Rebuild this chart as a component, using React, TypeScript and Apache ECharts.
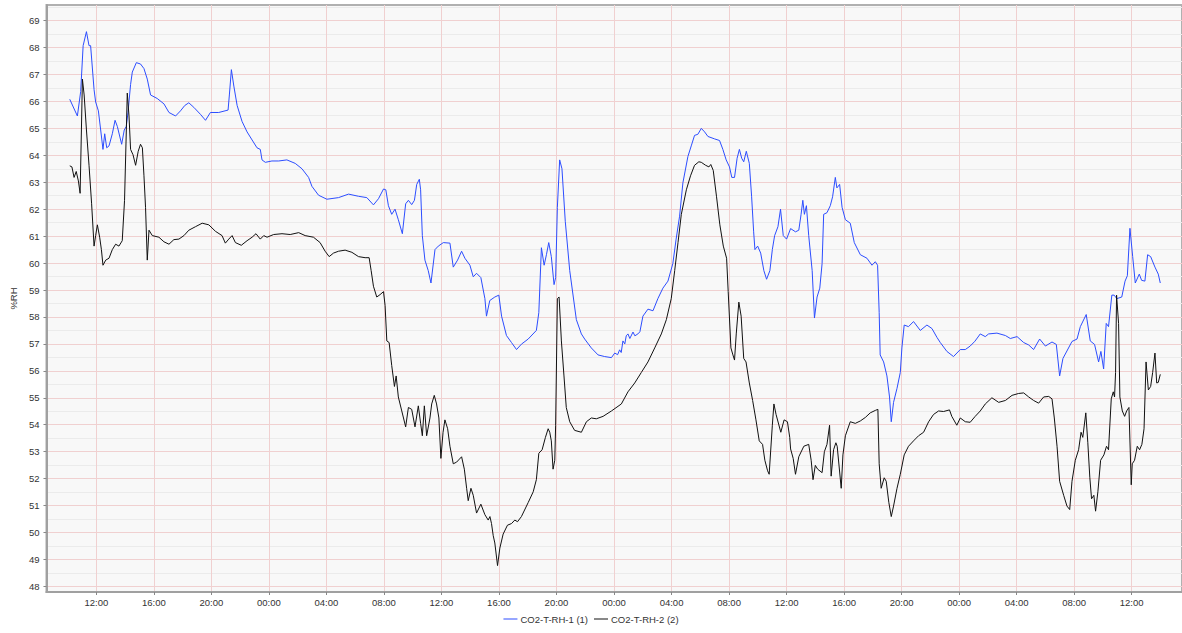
import React, { useEffect, useRef } from "react";
import * as echarts from "echarts";

// time in hours since 00:00 of the first day
const rh1Hours = [10.15,10.68,10.91,11.08,11.31,11.49,11.6,11.84,11.95,12.14,12.3,12.46,12.58,12.72,12.88,13.11,13.3,13.46,13.76,13.94,14.08,14.2,14.38,14.5,14.78,15.07,15.31,15.54,15.77,16.23,16.7,17.05,17.51,17.85,18.15,18.43,18.78,19.24,19.59,19.93,20.51,21.16,21.25,21.39,21.56,21.79,22.13,22.48,22.83,23.17,23.4,23.52,23.75,24.21,24.68,25.25,25.83,26.3,26.76,26.99,27.45,28.03,28.84,29.54,30.23,30.81,31.27,31.62,31.97,32.13,32.31,32.54,32.77,33.0,33.28,33.51,33.7,33.93,34.12,34.28,34.46,34.55,34.67,34.85,35.08,35.27,35.55,35.78,36.13,36.59,36.82,37.12,37.4,37.63,37.98,38.21,38.44,38.74,39.02,39.13,39.36,39.71,39.99,40.18,40.52,40.87,41.22,41.56,42.03,42.6,42.77,42.95,43.14,43.3,43.46,43.64,43.83,43.94,44.06,44.22,44.38,44.61,44.92,45.38,45.73,45.96,46.42,46.89,47.35,47.82,48.05,48.25,48.39,48.5,48.62,48.75,48.85,48.97,49.1,49.32,49.45,49.66,49.8,50.01,50.36,50.71,51.05,51.4,51.75,52.09,52.32,52.56,52.79,53.14,53.37,53.6,53.83,54.07,54.3,54.53,54.99,55.34,55.57,55.8,56.03,56.19,56.38,56.56,56.72,56.88,57.02,57.2,57.41,57.57,57.71,57.8,57.99,58.2,58.42,58.61,58.84,59.01,59.17,59.4,59.58,59.77,60.0,60.28,60.62,60.85,61.01,61.13,61.24,61.38,61.54,61.78,61.94,62.12,62.31,62.47,62.58,62.81,63.04,63.2,63.39,63.5,63.69,63.86,64.09,64.43,64.71,65.13,65.59,65.94,66.17,66.33,66.44,66.51,66.75,66.98,67.16,67.28,67.44,67.68,67.91,68.02,68.18,68.48,68.83,69.3,69.76,70.11,70.46,70.69,71.15,71.61,72.08,72.43,72.77,73.1,73.47,73.82,74.05,74.63,75.22,75.56,76.03,76.49,76.84,77.18,77.6,78.0,78.46,78.76,78.99,79.22,79.85,80.2,80.43,80.84,81.12,81.42,81.7,81.86,82.05,82.23,82.39,82.62,82.78,82.97,83.31,83.54,83.7,83.88,84.07,84.25,84.53,84.69,84.92,85.11,85.32,85.62,85.85,85.99];
const rh1Values = [66.08,65.46,66.37,68.07,68.59,68.07,68.07,66.44,65.98,65.65,64.94,64.22,64.8,64.28,64.35,64.8,65.3,65.07,64.41,64.94,65.07,65.59,66.63,67.09,67.44,67.39,67.22,66.83,66.24,66.11,65.91,65.59,65.46,65.65,65.85,65.95,65.78,65.52,65.3,65.59,65.59,65.68,66.24,67.18,66.57,65.85,65.26,64.87,64.57,64.28,64.22,63.83,63.74,63.79,63.79,63.83,63.7,63.5,63.18,62.85,62.52,62.37,62.43,62.56,62.48,62.43,62.16,62.39,62.75,62.72,62.13,61.81,62.0,61.61,61.09,62.2,62.33,62.17,62.33,62.92,63.11,62.72,61.02,60.11,59.72,59.26,60.5,60.63,60.76,60.74,59.85,60.11,60.44,60.18,59.92,59.49,59.62,59.46,58.68,58.03,58.61,58.74,58.81,58.03,57.31,57.05,56.79,56.99,57.18,57.5,58.16,60.57,59.92,60.31,60.76,60.24,59.2,59.46,62.07,63.83,63.5,61.55,59.72,57.9,57.37,57.18,56.85,56.59,56.53,56.49,56.66,56.6,56.78,56.68,57.11,57.0,57.3,57.37,57.2,57.44,57.3,57.37,57.45,58.03,58.29,58.23,58.68,59.07,59.33,59.98,60.89,61.74,62.98,63.96,64.35,64.74,64.78,65.0,64.87,64.7,64.61,64.55,64.22,63.83,63.57,63.18,63.18,63.89,64.22,63.89,63.76,64.15,63.7,62.46,61.16,60.5,60.63,60.37,59.72,59.4,59.72,60.5,61.02,61.35,62.0,61.02,60.89,61.28,61.16,61.22,61.81,62.33,61.81,62.13,61.02,59.72,57.96,58.74,59.07,59.98,61.81,61.87,62.13,62.46,63.18,62.79,62.92,62.07,61.61,61.48,60.76,60.31,60.18,59.92,60.05,59.92,58.16,56.59,56.33,55.81,55.03,54.11,54.83,55.35,55.94,56.85,57.7,57.64,57.83,57.5,57.7,57.57,57.24,57.05,56.72,56.53,56.79,56.79,56.92,57.1,57.37,57.27,57.37,57.4,57.31,57.2,57.27,57.05,56.96,56.79,57.18,56.92,57.07,56.98,55.81,56.46,57.09,57.18,57.64,58.09,57.11,56.98,56.33,56.72,56.07,57.76,57.64,58.81,58.81,58.68,58.74,59.33,59.53,61.29,60.24,59.26,59.59,59.36,59.33,60.31,60.24,59.85,59.59,59.26];

const rh2Hours = [10.15,10.3,10.45,10.6,10.75,10.87,10.96,11.03,11.15,11.31,11.49,11.67,11.84,11.95,12.07,12.23,12.35,12.46,12.65,12.88,13.11,13.34,13.57,13.8,13.96,14.15,14.27,14.38,14.55,14.73,14.91,15.07,15.2,15.31,15.42,15.54,15.66,15.89,16.35,16.7,17.05,17.39,17.74,18.09,18.43,18.89,19.36,19.82,20.28,20.74,20.97,21.21,21.44,21.67,22.08,22.48,22.83,23.1,23.4,23.64,23.87,24.33,24.91,25.48,26.07,26.52,27.1,27.56,27.91,28.19,28.49,28.84,29.3,29.77,30.23,30.69,30.97,31.11,31.27,31.5,31.73,31.97,32.08,32.2,32.36,32.54,32.73,32.85,33.0,33.24,33.51,33.7,33.93,34.16,34.39,34.55,34.67,34.81,34.97,35.2,35.32,35.5,35.66,35.82,35.96,36.11,36.24,36.43,36.59,36.82,37.05,37.4,37.59,37.75,37.86,38.05,38.21,38.44,38.74,39.02,39.25,39.37,39.48,39.6,39.71,39.9,40.06,40.29,40.59,40.87,41.1,41.29,41.56,42.03,42.38,42.6,42.77,43.0,43.23,43.42,43.53,43.64,43.76,43.88,43.94,44.06,44.18,44.34,44.52,44.68,44.92,45.26,45.73,46.08,46.42,46.77,47.24,47.82,48.51,48.97,49.44,49.9,50.36,50.83,51.29,51.64,51.98,52.22,52.45,52.68,53.03,53.32,53.6,53.9,54.07,54.37,54.6,54.73,54.9,55.13,55.36,55.6,55.83,55.94,56.13,56.27,56.38,56.5,56.68,56.84,57.02,57.18,57.41,57.64,57.87,58.1,58.33,58.49,58.68,58.79,59.01,59.12,59.27,59.6,59.83,60.06,60.22,60.28,60.46,60.62,60.85,61.2,61.54,61.71,61.84,62.0,62.16,62.47,62.63,62.81,62.99,63.1,63.27,63.43,63.52,63.8,63.92,64.09,64.43,64.78,65.13,65.48,65.82,66.17,66.35,66.44,66.58,66.79,66.93,67.11,67.28,67.44,67.68,67.91,68.18,68.48,68.83,69.18,69.53,69.88,70.22,70.57,70.92,71.33,71.49,71.84,72.08,72.43,72.77,73.1,73.47,73.82,74.28,74.75,75.22,75.68,76.14,76.49,76.84,77.18,77.53,77.88,78.23,78.46,78.62,78.81,78.99,79.27,79.5,79.69,79.85,80.08,80.31,80.48,80.6,80.81,80.95,81.09,81.21,81.37,81.49,81.65,81.84,82.07,82.25,82.39,82.58,82.72,82.81,82.88,82.95,83.09,83.18,83.35,83.51,83.65,83.81,83.97,84.04,84.2,84.39,84.55,84.71,84.86,85.0,85.16,85.32,85.46,85.62,85.74,85.85,85.99];
const rh2Values = [63.61,63.57,63.18,63.4,63.05,62.59,64.94,66.83,66.24,64.94,63.63,62.2,60.63,61.02,61.42,60.96,60.5,59.92,60.11,60.18,60.5,60.7,60.63,60.83,62.33,66.31,65.46,64.22,64.02,63.63,64.15,64.41,64.28,63.24,62.07,60.11,61.22,61.02,60.96,60.79,60.7,60.87,60.89,61.02,61.22,61.35,61.48,61.42,61.18,61.02,60.74,60.89,61.02,60.76,60.66,60.83,60.96,61.09,60.89,61.02,60.96,61.06,61.09,61.06,61.13,61.02,60.96,60.76,60.44,60.24,60.37,60.44,60.48,60.4,60.24,60.2,60.2,59.72,59.14,58.74,58.83,58.94,58.42,57.11,57.05,56.2,55.42,55.81,55.03,54.51,53.92,54.64,54.57,53.92,54.7,54.05,53.59,54.7,53.59,54.25,54.77,55.09,54.77,54.25,52.75,53.72,54.18,53.85,53.2,52.55,52.61,52.81,52.35,51.64,51.18,51.64,51.38,50.72,51.05,50.66,50.46,50.59,50.33,49.88,49.61,48.77,49.42,49.94,50.27,50.33,50.46,50.4,50.59,51.11,51.51,51.96,52.94,53.07,53.53,53.85,53.72,53.4,52.35,52.68,53.98,58.68,58.74,57.11,55.81,54.64,54.11,53.79,53.72,54.11,54.25,54.22,54.31,54.51,54.77,55.22,55.55,55.94,56.33,56.85,57.37,57.9,58.68,59.72,60.76,61.81,62.72,63.24,63.63,63.76,63.74,63.63,63.57,63.66,63.44,62.46,61.42,60.63,60.18,58.94,56.85,56.59,56.4,57.37,58.55,58.03,56.46,56.33,55.55,54.9,54.18,53.4,53.27,52.68,52.29,52.16,53.98,54.77,54.38,53.72,54.18,54.11,53.53,53.1,52.75,52.16,52.81,53.2,53.27,52.68,51.96,52.49,52.35,52.22,53.0,53.27,53.98,52.09,53.07,53.33,53.2,51.64,52.88,53.59,54.11,54.05,54.14,54.27,54.44,54.53,54.57,52.55,51.64,52.03,51.9,51.12,50.59,50.98,51.64,52.16,52.88,53.2,53.4,53.59,53.72,54.11,54.38,54.51,54.49,54.55,54.31,53.98,54.25,54.11,54.09,54.3,54.51,54.77,55.0,54.83,54.9,55.09,55.16,55.18,55.03,54.9,54.8,55.03,55.05,54.96,54.25,53.2,51.9,51.38,50.98,50.85,51.9,52.68,53.07,53.72,53.53,54.44,53.33,52.03,51.25,51.38,50.79,51.51,52.68,52.88,53.2,53.07,54.96,55.22,55.03,55.94,58.81,57.76,55.03,54.51,54.31,54.51,54.64,51.77,52.55,52.68,53.2,53.07,53.27,53.85,56.33,55.29,55.42,55.94,56.66,55.55,55.57,55.87];

const seriesNames = ["CO2-T-RH-1 (1)", "CO2-T-RH-2 (2)"];
const yAxisName = "%RH";
const xMin = 8.53;
const xMax = 87.5;
const yMin = 47.79;
const yMax = 69.58;

const pad = (n: number) => (n < 10 ? "0" + n : String(n));

export default function App() {
  const ref = useRef<HTMLDivElement>(null);
  useEffect(() => {
    if (!ref.current) return;
    const chart = echarts.init(ref.current, null, { renderer: "svg" });
    const font = "'Liberation Sans', Arial, sans-serif";
    const d1 = rh1Hours.map((h, i) => [h, rh1Values[i]]);
    const d2 = rh2Hours.map((h, i) => [h, rh2Values[i]]);
    chart.setOption({
      animation: false,
      backgroundColor: "#ffffff",
      textStyle: { fontFamily: font },
      grid: {
        left: 44,
        right: 0,
        top: 5,
        bottom: 41,
        show: true,
        backgroundColor: "#f8f8f8",
        borderColor: "#b0b0b0",
        borderWidth: 2,
      },
      legend: {
        bottom: 4,
        left: "center",
        icon: "rect",
        itemWidth: 14,
        itemHeight: 1,
        itemGap: 6,
        textStyle: { fontSize: 9.5, color: "#333", fontFamily: font, padding: [0, 0, 0, -2] },
        data: seriesNames,
      },
      xAxis: {
        type: "value",
        min: xMin,
        max: xMax,
        minInterval: 4,
        maxInterval: 4,
        splitNumber: 20,
        axisLine: { show: true, onZero: false, lineStyle: { color: "#a0a0a0", width: 2 } },
        axisTick: { show: true, length: 3, lineStyle: { color: "#888" } },
        axisLabel: {
          margin: 5,
          fontSize: 9.5,
          color: "#333",
          fontFamily: font,
          showMinLabel: false,
          showMaxLabel: false,
          formatter: (v: number) => {
            if (Math.abs(v / 4 - Math.round(v / 4)) > 1e-6) return "";
            const h = ((Math.round(v) % 24) + 24) % 24;
            return pad(h) + ":00";
          },
        },
        splitLine: { show: true, showMinLine: false, showMaxLine: false, lineStyle: { color: "#f0d0d0", width: 1 } },
      },
      yAxis: {
        type: "value",
        min: yMin,
        max: yMax,
        minInterval: 1,
        maxInterval: 1,
        splitNumber: 22,
        name: yAxisName,
        nameLocation: "middle",
        nameGap: 24,
        nameTextStyle: { fontSize: 9.5, color: "#333", fontFamily: font },
        axisLine: { show: true, lineStyle: { color: "#a0a0a0", width: 2 } },
        axisTick: { show: true, length: 3, lineStyle: { color: "#888" } },
        axisLabel: {
          margin: 7,
          fontSize: 9.5,
          color: "#333",
          fontFamily: font,
          showMinLabel: false,
          showMaxLabel: false,
          formatter: (v: number) => (Math.abs(v - Math.round(v)) < 1e-6 ? String(Math.round(v)) : ""),
        },
        splitLine: { show: true, showMinLine: false, showMaxLine: false, lineStyle: { color: "#f0d0d0", width: 1 } },
        minorTick: { show: false, splitNumber: 2 },
        minorSplitLine: { show: true, lineStyle: { color: "#ebebeb", width: 1 } },
      },
      series: [
        {
          name: seriesNames[0],
          type: "line",
          data: d1,
          showSymbol: false,
          symbol: "none",
          color: "#2c4dff",
          lineStyle: { width: 1, color: "#2c4dff" },
        },
        {
          name: seriesNames[1],
          type: "line",
          data: d2,
          showSymbol: false,
          symbol: "none",
          color: "#111111",
          lineStyle: { width: 1, color: "#111111" },
        },
      ],
    });
    return () => chart.dispose();
  }, []);
  return (
    <div
      ref={ref}
      style={{ position: "fixed", left: 0, top: 0, width: 1182, height: 633 }}
    />
  );
}
